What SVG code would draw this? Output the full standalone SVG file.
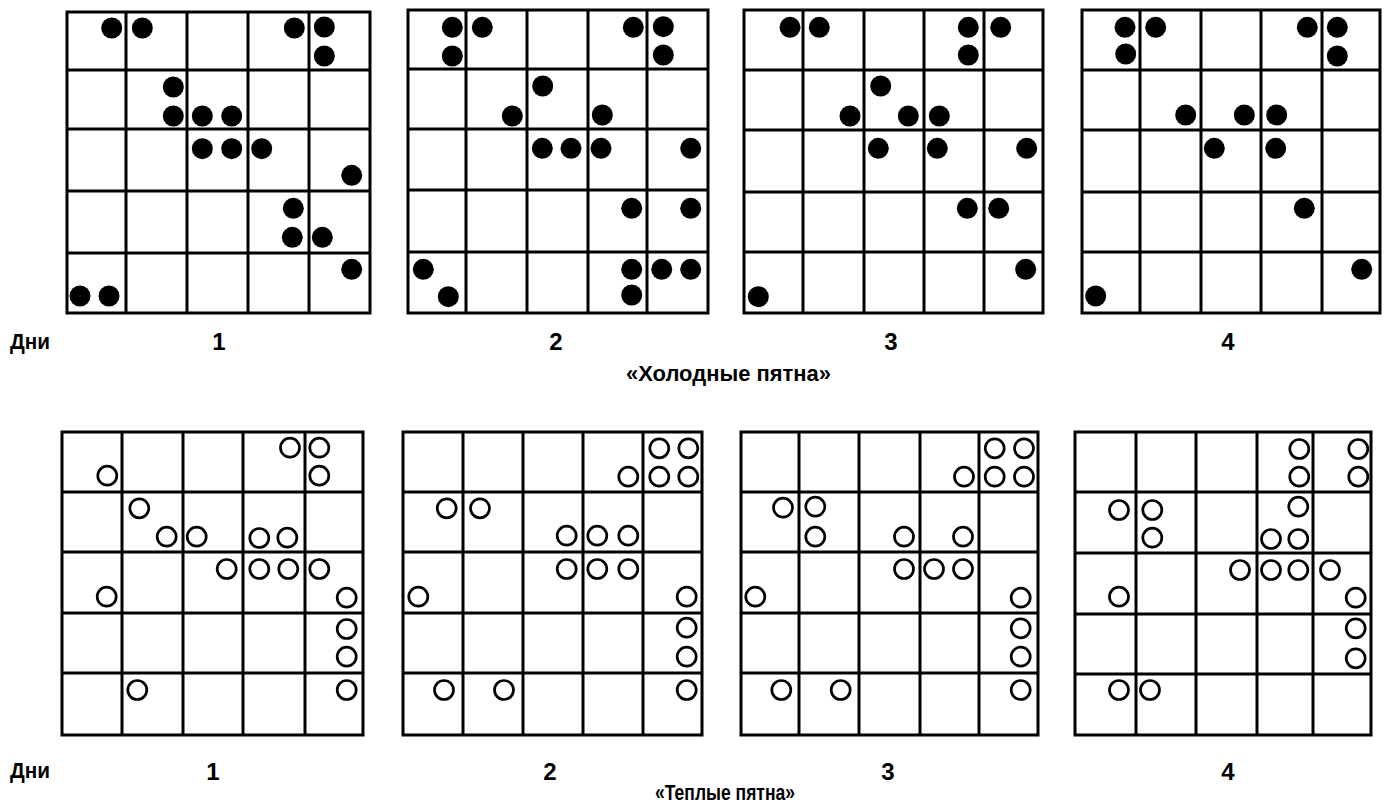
<svg xmlns="http://www.w3.org/2000/svg" width="1393" height="804" viewBox="0 0 1393 804">
<style>
.grid{fill:none;stroke:#000;stroke-width:3;stroke-linecap:square}
.f{fill:#000}
.o{fill:#fff;stroke:#000;stroke-width:2.7}
.t{font-family:"Liberation Sans Narrow","Liberation Sans",Arial,sans-serif;font-weight:bold;fill:#000}
.d{font-size:24px;text-anchor:middle}
.l{font-size:22px}
</style>
<rect width="1393" height="804" fill="#fff"/>

<g id="cold-1">
<path class="grid" d="M67 12H370V313H67Z M126 12V313 M187 12V313 M248 12V313 M309 12V313 M67 70H370 M67 129H370 M67 191H370 M67 253H370"/>
<g class="f">
<circle cx="111.7" cy="28" r="10.5"/><circle cx="142.3" cy="28" r="10.5"/><circle cx="294.3" cy="28" r="10.5"/><circle cx="324.3" cy="27" r="10.5"/><circle cx="324.3" cy="56" r="10.5"/>
<circle cx="173.3" cy="87" r="10.5"/><circle cx="173.3" cy="116" r="10.5"/><circle cx="202.3" cy="116" r="10.5"/><circle cx="231.7" cy="116" r="10.5"/>
<circle cx="202.3" cy="148.7" r="10.5"/><circle cx="231.7" cy="148.7" r="10.5"/><circle cx="261.7" cy="148.7" r="10.5"/><circle cx="351.7" cy="175.3" r="10.5"/>
<circle cx="293.3" cy="208.3" r="10.5"/><circle cx="292.3" cy="237.3" r="10.5"/><circle cx="322.3" cy="237.3" r="10.5"/>
<circle cx="351.7" cy="269.3" r="10.5"/><circle cx="80" cy="296" r="10.5"/><circle cx="109" cy="296" r="10.5"/>
</g>
</g>

<g id="cold-2">
<path class="grid" d="M408 10H708V313H408Z M466 10V313 M527 10V313 M588 10V313 M647 10V313 M408 69H708 M408 129H708 M408 190H708 M408 252H708"/>
<g class="f">
<circle cx="452.3" cy="27.3" r="10.5"/><circle cx="482.3" cy="27.3" r="10.5"/><circle cx="452.3" cy="56" r="10.5"/><circle cx="633.3" cy="27.3" r="10.5"/><circle cx="663.3" cy="26.7" r="10.5"/><circle cx="663.3" cy="55" r="10.5"/>
<circle cx="542.7" cy="86" r="10.5"/><circle cx="512.3" cy="116" r="10.5"/><circle cx="602.3" cy="115" r="10.5"/>
<circle cx="542.3" cy="148.3" r="10.5"/><circle cx="571" cy="148.3" r="10.5"/><circle cx="601" cy="148.3" r="10.5"/><circle cx="690.7" cy="148.3" r="10.5"/>
<circle cx="631.7" cy="208.3" r="10.5"/><circle cx="690.7" cy="208.3" r="10.5"/>
<circle cx="423.3" cy="269.3" r="10.5"/><circle cx="448.3" cy="296.7" r="10.5"/><circle cx="631.7" cy="269.3" r="10.5"/><circle cx="631.7" cy="295" r="10.5"/><circle cx="661.7" cy="269.3" r="10.5"/><circle cx="690.7" cy="269.3" r="10.5"/>
</g>
</g>

<g id="cold-3">
<path class="grid" d="M744 10H1043V313H744Z M803 10V313 M864 10V313 M924 10V313 M984 10V313 M744 70H1043 M744 130H1043 M744 192H1043 M744 252H1043"/>
<g class="f">
<circle cx="790" cy="27.3" r="10.5"/><circle cx="819.3" cy="27.3" r="10.5"/><circle cx="968.3" cy="27.3" r="10.5"/><circle cx="1000.7" cy="27.3" r="10.5"/><circle cx="968.3" cy="55" r="10.5"/>
<circle cx="880.7" cy="86" r="10.5"/><circle cx="850" cy="116" r="10.5"/><circle cx="908.3" cy="116" r="10.5"/><circle cx="939.3" cy="116" r="10.5"/>
<circle cx="878.3" cy="148.3" r="10.5"/><circle cx="937.3" cy="148.3" r="10.5"/><circle cx="1026.7" cy="148.3" r="10.5"/>
<circle cx="967.3" cy="208.3" r="10.5"/><circle cx="998.7" cy="208.3" r="10.5"/>
<circle cx="1025.7" cy="269.3" r="10.5"/><circle cx="758.3" cy="296.7" r="10.5"/>
</g>
</g>

<g id="cold-4">
<path class="grid" d="M1082 10H1380V313H1082Z M1140 10V313 M1201 10V313 M1261 10V313 M1322 10V313 M1082 70H1380 M1082 130H1380 M1082 192H1380 M1082 252H1380"/>
<g class="f">
<circle cx="1125" cy="27.3" r="10.5"/><circle cx="1155.7" cy="27.3" r="10.5"/><circle cx="1125.7" cy="54" r="10.5"/><circle cx="1307.3" cy="27.3" r="10.5"/><circle cx="1337.3" cy="27.3" r="10.5"/><circle cx="1337.3" cy="56" r="10.5"/>
<circle cx="1185.7" cy="115" r="10.5"/><circle cx="1244.3" cy="115" r="10.5"/><circle cx="1276.7" cy="115" r="10.5"/>
<circle cx="1214.3" cy="148.3" r="10.5"/><circle cx="1275.7" cy="148.3" r="10.5"/>
<circle cx="1304.3" cy="208.3" r="10.5"/><circle cx="1361.7" cy="269.3" r="10.5"/><circle cx="1095.7" cy="296" r="10.5"/>
</g>
</g>

<g id="warm-1">
<path class="grid" d="M62 432H363V735H62Z M122 432V735 M183 432V735 M243 432V735 M305 432V735 M62 492H363 M62 552H363 M62 613H363 M62 673H363"/>
<g class="o">
<circle cx="107.3" cy="475.7" r="9.5"/><circle cx="290" cy="447.7" r="9.5"/><circle cx="319.3" cy="447.7" r="9.5"/><circle cx="319.3" cy="475.7" r="9.5"/>
<circle cx="139.3" cy="508.3" r="9.5"/><circle cx="166.7" cy="536.7" r="9.5"/><circle cx="196.7" cy="536.7" r="9.5"/><circle cx="259.3" cy="538" r="9.5"/><circle cx="287.3" cy="537.7" r="9.5"/>
<circle cx="226.7" cy="569" r="9.5"/><circle cx="259.3" cy="569" r="9.5"/><circle cx="288.3" cy="569" r="9.5"/><circle cx="319.3" cy="569" r="9.5"/>
<circle cx="106.7" cy="596.7" r="9.5"/><circle cx="346.7" cy="597.7" r="9.5"/><circle cx="346.7" cy="629" r="9.5"/><circle cx="346.7" cy="656.7" r="9.5"/>
<circle cx="137.3" cy="690" r="9.5"/><circle cx="346.7" cy="690" r="9.5"/>
</g>
</g>

<g id="warm-2">
<path class="grid" d="M403 432H702V735H403Z M463 432V735 M523 432V735 M583 432V735 M643 432V735 M403 492H702 M403 552H702 M403 613H702 M403 673H702"/>
<g class="o">
<circle cx="659.3" cy="448.3" r="9.5"/><circle cx="688.3" cy="448.3" r="9.5"/><circle cx="628.3" cy="476.7" r="9.5"/><circle cx="659.3" cy="476.7" r="9.5"/><circle cx="688.3" cy="476.7" r="9.5"/>
<circle cx="446.7" cy="508.3" r="9.5"/><circle cx="480" cy="508.3" r="9.5"/><circle cx="566.7" cy="535.7" r="9.5"/><circle cx="597.3" cy="535.7" r="9.5"/><circle cx="628.3" cy="535.7" r="9.5"/>
<circle cx="566.7" cy="569" r="9.5"/><circle cx="597.3" cy="569" r="9.5"/><circle cx="628.3" cy="569" r="9.5"/>
<circle cx="418.3" cy="596.7" r="9.5"/><circle cx="686.7" cy="596.7" r="9.5"/><circle cx="686.7" cy="627.7" r="9.5"/><circle cx="686.7" cy="656.7" r="9.5"/>
<circle cx="444" cy="690" r="9.5"/><circle cx="504" cy="690" r="9.5"/><circle cx="686.7" cy="690" r="9.5"/>
</g>
</g>

<g id="warm-3">
<path class="grid" d="M741 432H1038V735H741Z M799 432V735 M859 432V735 M920 432V735 M979 432V735 M741 492H1038 M741 552H1038 M741 613H1038 M741 673H1038"/>
<g class="o">
<circle cx="994.7" cy="448.3" r="9.5"/><circle cx="1024" cy="448.3" r="9.5"/><circle cx="964" cy="476.7" r="9.5"/><circle cx="994.7" cy="476.7" r="9.5"/><circle cx="1024" cy="476.7" r="9.5"/>
<circle cx="783" cy="507.7" r="9.5"/><circle cx="815.3" cy="506.7" r="9.5"/><circle cx="815.3" cy="536.7" r="9.5"/><circle cx="904" cy="536.7" r="9.5"/><circle cx="963" cy="536.7" r="9.5"/>
<circle cx="904" cy="569" r="9.5"/><circle cx="934" cy="569" r="9.5"/><circle cx="963" cy="569" r="9.5"/>
<circle cx="755.3" cy="596.7" r="9.5"/><circle cx="1020.7" cy="597.7" r="9.5"/><circle cx="1020.7" cy="628.3" r="9.5"/><circle cx="1020.7" cy="656.7" r="9.5"/>
<circle cx="781.3" cy="690" r="9.5"/><circle cx="840.7" cy="690" r="9.5"/><circle cx="1020.7" cy="690" r="9.5"/>
</g>
</g>

<g id="warm-4">
<path class="grid" d="M1075 432H1371V735H1075Z M1136 432V735 M1196 432V735 M1257 432V735 M1313 432V735 M1075 492H1371 M1075 553H1371 M1075 614H1371 M1075 674H1371"/>
<g class="o">
<circle cx="1299.3" cy="449" r="9.5"/><circle cx="1358.3" cy="449" r="9.5"/><circle cx="1299.3" cy="476.7" r="9.5"/><circle cx="1358.3" cy="476.7" r="9.5"/>
<circle cx="1119" cy="510" r="9.5"/><circle cx="1152.3" cy="510" r="9.5"/><circle cx="1152.3" cy="537.7" r="9.5"/><circle cx="1298.3" cy="506.7" r="9.5"/><circle cx="1271" cy="539" r="9.5"/><circle cx="1298.3" cy="539" r="9.5"/>
<circle cx="1240" cy="570" r="9.5"/><circle cx="1271" cy="570" r="9.5"/><circle cx="1298.3" cy="570" r="9.5"/><circle cx="1330" cy="570" r="9.5"/>
<circle cx="1119" cy="596.7" r="9.5"/><circle cx="1355.7" cy="597.7" r="9.5"/><circle cx="1355.7" cy="628.3" r="9.5"/><circle cx="1355.7" cy="658.3" r="9.5"/>
<circle cx="1119" cy="690" r="9.5"/><circle cx="1150" cy="690" r="9.5"/>
</g>
</g>

<g id="labels-cold" class="t">
<text class="l" x="10" y="349" textLength="40" lengthAdjust="spacingAndGlyphs">Дни</text>
<text class="d" x="219" y="350">1</text>
<text class="d" x="556" y="350">2</text>
<text class="d" x="891" y="350">3</text>
<text class="d" x="1228" y="350">4</text>
<text class="l" x="626" y="381" textLength="205" lengthAdjust="spacingAndGlyphs">«Холодные пятна»</text>
</g>

<g id="labels-warm" class="t">
<text class="l" x="10" y="778" textLength="40" lengthAdjust="spacingAndGlyphs">Дни</text>
<text class="d" x="213" y="780">1</text>
<text class="d" x="550" y="780">2</text>
<text class="d" x="888" y="780">3</text>
<text class="d" x="1228" y="780">4</text>
<text class="l" x="655" y="800" textLength="140" lengthAdjust="spacingAndGlyphs">«Теплые пятна»</text>
</g>
</svg>
